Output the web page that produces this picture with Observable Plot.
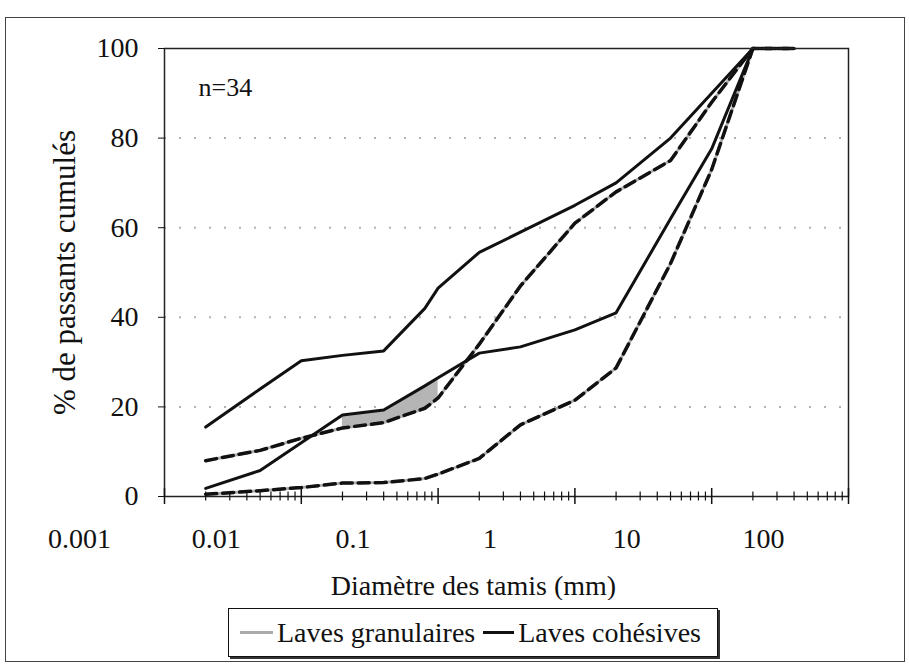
<!DOCTYPE html>
<html>
<head>
<meta charset="utf-8">
<script src="https://cdn.jsdelivr.net/npm/d3@7"></script>
<script src="https://cdn.jsdelivr.net/npm/@observablehq/plot@0.6"></script>
<style>
  html, body { margin: 0; padding: 0; background: #fff; }
  #wrap { position: relative; width: 909px; height: 666px; overflow: hidden; font-family: "Liberation Serif", "Tinos", "DejaVu Serif", serif; color: #111; }
  #outer { position: absolute; left: 5px; top: 17px; width: 900px; height: 645px; border: 1px solid #444; box-sizing: border-box; }
  #chart { position: absolute; left: 0; top: 0; }
  #legend { position: absolute; left: 228px; top: 608px; width: 490px; height: 49px; box-sizing: border-box;
            border: 1.5px solid #111; box-shadow: 2px 2px 0 #333; background: #fff;
            display: flex; align-items: center; font-size: 28px; white-space: nowrap; }
  .sw { display: inline-block; height: 3px; margin: 0 4px 0 0; }
</style>
</head>
<body>
<div id="wrap">
  <div id="outer"></div>
  <div id="chart"></div>
  <div id="legend">
    <span class="sw" style="width:33px;background:#aaa;margin-left:11px;"></span><span id="lg1"></span>
    <span class="sw" style="width:31px;background:#111;margin-left:8px;"></span><span id="lg2"></span>
  </div>
</div>
<script>
// Sieve sizes (mm)
const sizes = [0.002, 0.005, 0.01, 0.02, 0.04, 0.08, 0.1, 0.2, 0.4, 1, 2, 5, 10, 20, 40];
// Envelopes, % passing
const cohesiveUpper = [15.5, 24, 30.3, 31.5, 32.5, 42, 46.5, 54.5, 59, 65, 70, 80, 90, 100, 100];
const cohesiveLower = [1.8, 5.8, 12, 18.2, 19.3, 24.7, 26.5, 32, 33.4, 37.2, 41, 62, 77.6, 100, 100];
const granularUpper = [8, 10.3, 13, 15.3, 16.5, 19.7, 22, 34, 47, 61, 68, 75, 88, 100, 100];
const granularLower = [0.5, 1.3, 2, 3, 3.1, 4, 5, 8.5, 16, 21.5, 28.7, 52, 73, 100, 100];

const xTicks = [0.001, 0.01, 0.1, 1, 10, 100];
const xTickLabels = ["0.001", "0.01", "0.1", "1", "10", "100"];
const yTicks = [0, 20, 40, 60, 80, 100];
const yGrid = [20, 40, 60, 80];
const seriesNames = ["Laves granulaires", "Laves cohésives"];
const xTitle = "Diamètre des tamis (mm)";
const yTitle = "% de passants cumulés";
const note = "n=34";

const minorTicks = xTicks.slice(0, -1).flatMap(t => d3.range(2, 10).map(k => t * k));

const rows = sizes.map((d, i) => ({
  d, cu: cohesiveUpper[i], cl: cohesiveLower[i], gu: granularUpper[i], gl: granularLower[i]
}));
const wedge = rows.filter(r => r.d >= 0.02 && r.d <= 0.1);

const dash = {stroke: "#111", strokeWidth: 3.5, strokeDasharray: "11,6"};
const grayLine = {stroke: "#b0b0b0", strokeWidth: 3};
const solid = {stroke: "#111", strokeWidth: 3};
const serif = "'Liberation Serif', 'Tinos', 'DejaVu Serif', serif";

const chart = Plot.plot({
  width: 909,
  height: 600,
  marginLeft: 164,
  marginRight: 61,
  marginTop: 48,
  marginBottom: 104,
  style: {fontFamily: serif, background: "transparent", color: "#111"},
  x: {type: "log", domain: [0.001, 100]},
  y: {domain: [0, 100]},
  marks: [
    Plot.gridY(yGrid, {stroke: "#aaa", strokeOpacity: 0.9, strokeWidth: 2, strokeDasharray: "2,13"}),
    Plot.areaY(wedge, {x: "d", y1: "gu", y2: "cl", fill: "#b5b5b5"}),
    Plot.line(rows, {x: "d", y: "gu", ...grayLine}),
    Plot.line(rows, {x: "d", y: "gl", ...grayLine}),
    Plot.line(rows, {x: "d", y: "gu", ...dash}),
    Plot.line(rows, {x: "d", y: "gl", ...dash}),
    Plot.line(rows, {x: "d", y: "cu", ...solid}),
    Plot.line(rows, {x: "d", y: "cl", ...solid}),
    Plot.frame({stroke: "#222", strokeWidth: 1.5}),
    Plot.axisX(minorTicks, {tickSize: 9, dy: -4.5, tickFormat: () => "", label: null, strokeWidth: 1.2}),
    Plot.axisX(xTicks, {tickSize: 16, dy: -8, tickFormat: () => "", label: null, strokeWidth: 1.5}),
    Plot.axisX(xTicks, {tickSize: 0, tickPadding: 32, dx: -85, fontSize: 28, label: null,
      tickFormat: d => xTickLabels[xTicks.indexOf(d)]}),
    Plot.axisY(yTicks, {tickSize: 6, tickPadding: 20, fontSize: 28, label: null}),
    Plot.text([xTitle], {frameAnchor: "bottom", textAnchor: "middle", lineAnchor: "middle", dx: -33, dy: 90, fontSize: 28}),
    Plot.text([yTitle], {frameAnchor: "left", textAnchor: "middle", lineAnchor: "middle", rotate: -90, dx: -99, fontSize: 31}),
    Plot.text([note], {frameAnchor: "top-left", textAnchor: "start", lineAnchor: "middle", dx: 34, dy: 39, fontSize: 26})
  ]
});
document.getElementById("chart").appendChild(chart);
document.getElementById("lg1").textContent = seriesNames[0];
document.getElementById("lg2").textContent = seriesNames[1];
</script>
</body>
</html>
